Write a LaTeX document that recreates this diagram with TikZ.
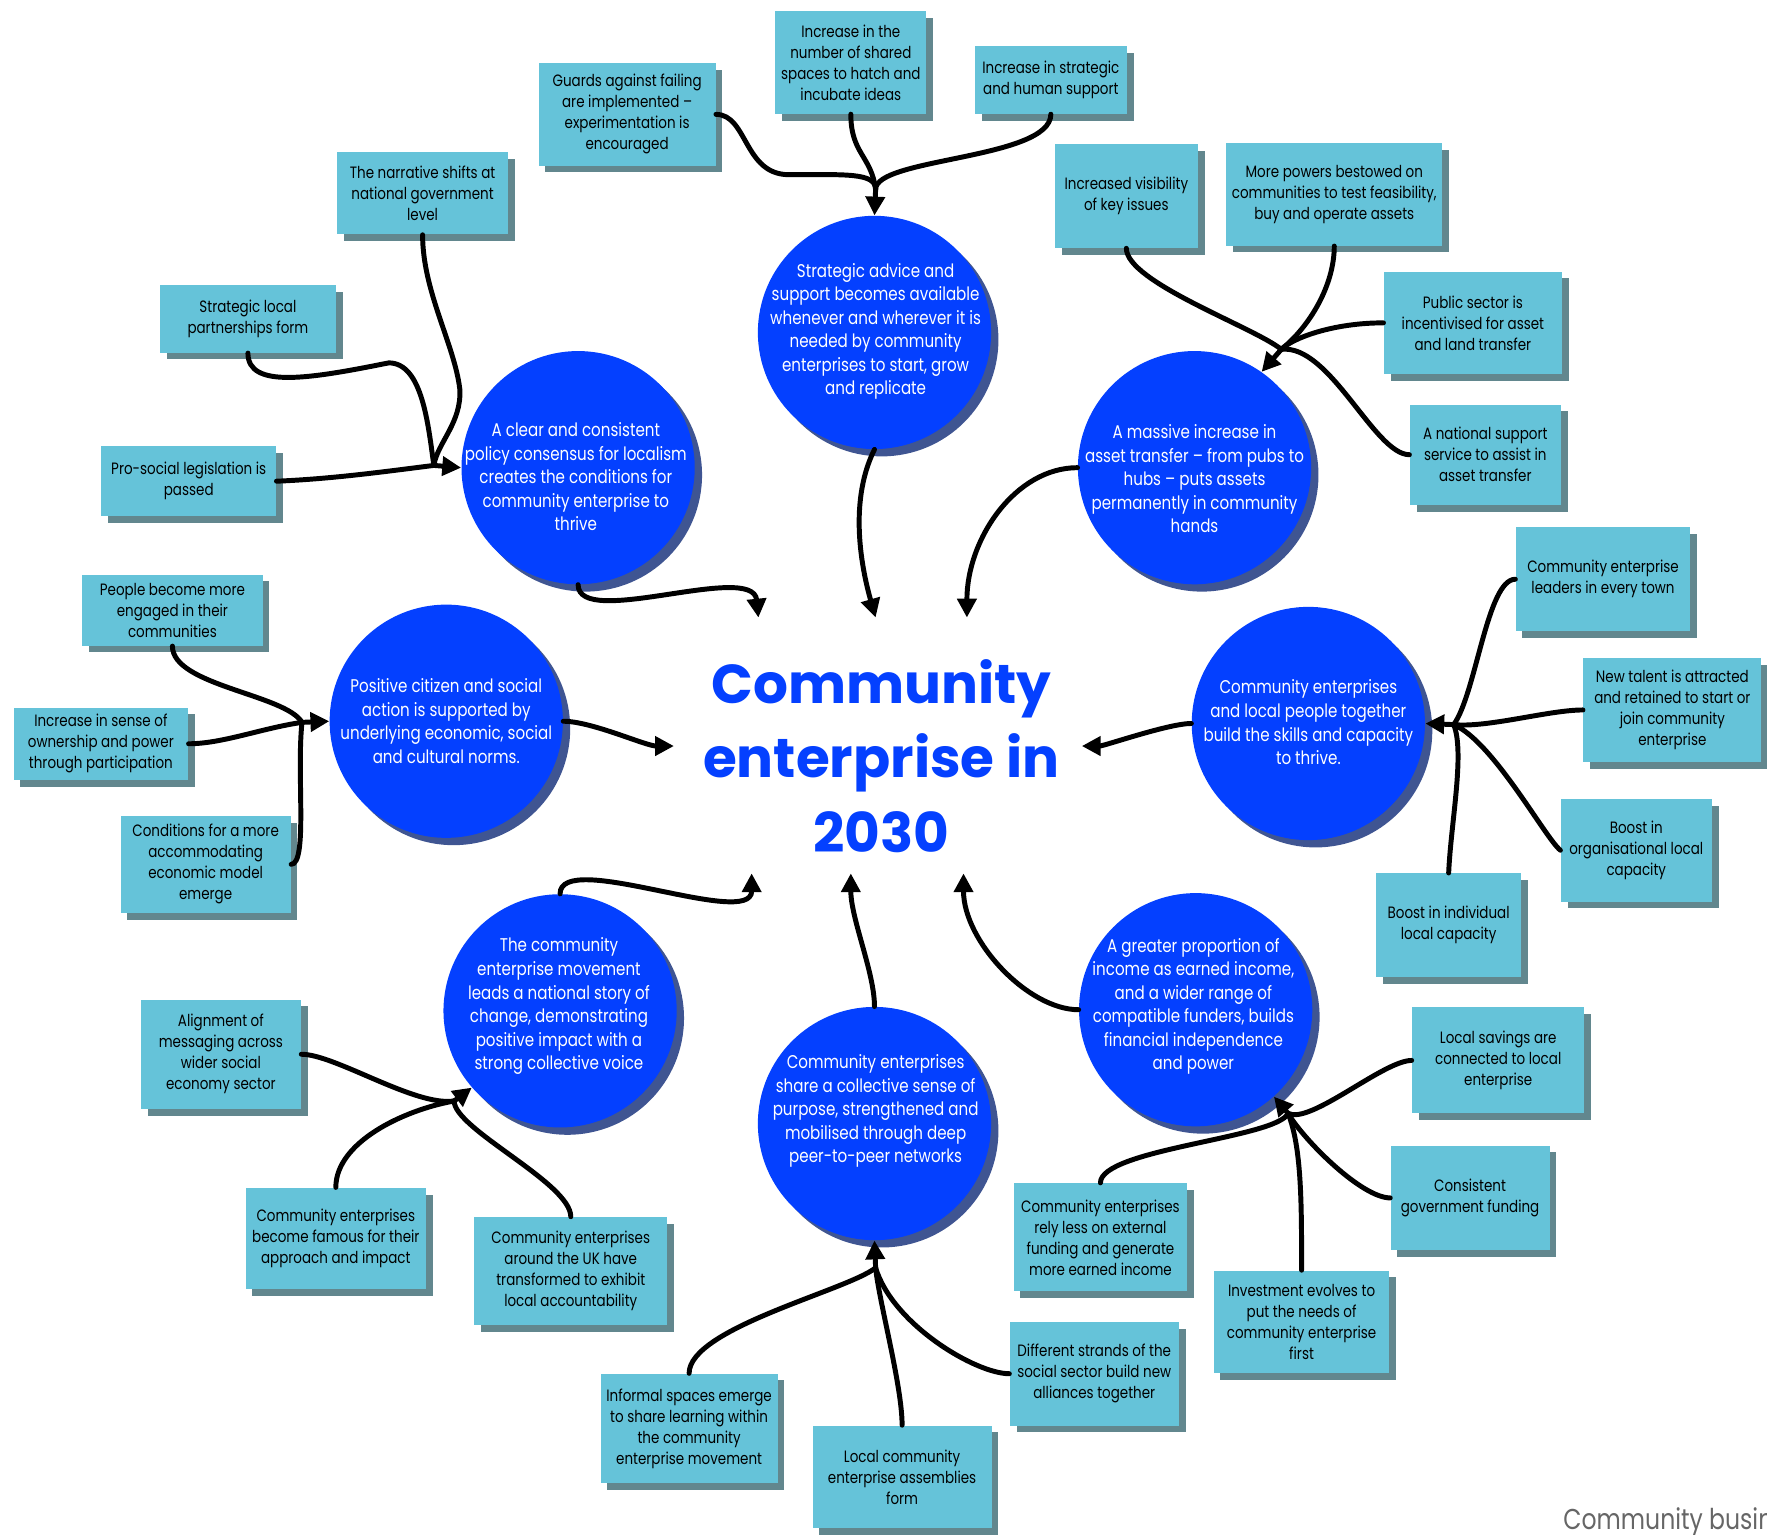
\documentclass[tikz,border=0pt]{standalone}
\usepackage{fontspec}
\setmainfont{Poppins}[FakeStretch=0.82]
\newfontfamily\headfont{Poppins}
\usetikzlibrary{arrows.meta,shadows}

\definecolor{discblue}{HTML}{0440FF}
\definecolor{discshade}{HTML}{3F5592}
\definecolor{cardfill}{HTML}{65C3D9}
\definecolor{cardshade}{HTML}{62878E}

\tikzset{
  card/.style={rectangle, fill=cardfill, inner sep=0pt, align=center, text=black,
    font=\fontsize{8.3}{10.6}\selectfont,
    general shadow={fill=cardshade, shadow xshift=0.12cm, shadow yshift=-0.12cm}},
  disc/.style={circle, fill=discblue, inner sep=0pt, minimum size=4.14cm,
    general shadow={fill=discshade, shadow xshift=0.13cm, shadow yshift=-0.13cm}},
  disctext/.style={text=white, align=center, font=\fontsize{9.3}{11.9}\selectfont},
  feed/.style={line width=2.5pt, line cap=round},
  link/.style={feed, -{Triangle[length=9.5pt,width=9.5pt]}}
}

\begin{document}
\begin{tikzpicture}[x=0.02cm,y=0.02cm]
\useasboundingbox (0,0) rectangle (1568,-1362);

% the outcomes
\node[disc] (advice) at (776,-295) {};
\node[disc] (policy) at (513,-415) {};
\node[disc] (assets) at (1060,-415) {};
\node[disc] (citizen) at (396,-640) {};
\node[disc] (skills) at (1161,-642) {};
\node[disc] (movement) at (497,-897) {};
\node[disc] (collective) at (776,-997) {};
\node[disc] (income) at (1061,-896) {};

\node[disctext] (adviceTxt) at (777,-294) {Strategic advice and\\support becomes available\\whenever and wherever it is\\needed by community\\enterprises to start, grow\\and replicate};
\node[disctext] (policyTxt) at (511,-423) {A clear and consistent\\policy consensus for localism\\creates the conditions for\\community enterprise to\\thrive};
\node[disctext] (assetsTxt) at (1060,-425) {A massive increase in\\asset transfer -- from pubs to\\hubs -- puts assets\\permanently in community\\hands};
\node[disctext] (citizenTxt) at (396,-640) {Positive citizen and social\\action is supported by\\underlying economic, social\\and cultural norms.};
\node[disctext] (skillsTxt) at (1161,-641) {Community enterprises\\and local people together\\build the skills and capacity\\to thrive.};
\node[disctext] (movementTxt) at (496,-893) {The community\\enterprise movement\\leads a national story of\\change, demonstrating\\positive impact with a\\strong collective voice};
\node[disctext] (collectiveTxt) at (777,-986) {Community enterprises\\share a collective sense of\\purpose, strengthened and\\mobilised through deep\\peer-to-peer networks};
\node[disctext] (incomeTxt) at (1059,-893) {A greater proportion of\\income as earned income,\\and a wider range of\\compatible funders, builds\\financial independence\\and power};

% the title
\node[font=\headfont\bfseries\fontsize{27.7}{37.5}\selectfont, text=discblue, align=center] (hub) at (782,-671) {Community\\enterprise in\\2030};

% the conditions
\node[card, minimum width=2.68cm, minimum height=1.82cm] (shared) at (755,-55.5) {Increase in the\\number of shared\\spaces to hatch and\\incubate ideas};
\node[card, minimum width=3.14cm, minimum height=1.82cm] (guards) at (556.5,-101.5) {Guards against failing\\are implemented --\\experimentation is\\encouraged};
\node[card, minimum width=2.70cm, minimum height=1.20cm] (support) at (932.5,-71) {Increase in strategic\\and human support};
\node[card, minimum width=3.04cm, minimum height=1.46cm] (narrative) at (375,-171.5) {The narrative shifts at\\national government\\level};
\node[card, minimum width=3.12cm, minimum height=1.20cm] (partners) at (220,-283) {Strategic local\\partnerships form};
\node[card, minimum width=3.10cm, minimum height=1.24cm] (legislation) at (167.5,-427) {Pro-social legislation is\\passed};
\node[card, minimum width=2.54cm, minimum height=1.84cm] (visibility) at (999.5,-174) {Increased visibility\\of key issues};
\node[card, minimum width=3.84cm, minimum height=1.82cm] (powers) at (1184,-172.5) {More powers bestowed on\\communities to test feasibility,\\buy and operate assets};
\node[card, minimum width=3.16cm, minimum height=1.82cm] (publicsector) at (1307,-286.5) {Public sector is\\incentivised for asset\\and land transfer};
\node[card, minimum width=2.68cm, minimum height=1.78cm] (national) at (1318,-403.5) {A national support\\service to assist in\\asset transfer};
\node[card, minimum width=3.10cm, minimum height=1.84cm] (leaders) at (1422.5,-514) {Community enterprise\\leaders in every town};
\node[card, minimum width=3.16cm, minimum height=1.84cm] (talent) at (1484,-630) {New talent is attracted\\and retained to start or\\join community\\enterprise};
\node[card, minimum width=2.68cm, minimum height=1.82cm] (orgcap) at (1452,-754.5) {Boost in\\organisational local\\capacity};
\node[card, minimum width=2.58cm, minimum height=1.84cm] (indcap) at (1285.5,-821) {Boost in individual\\local capacity};
\node[card, minimum width=3.20cm, minimum height=1.26cm] (engaged) at (153,-541.5) {People become more\\engaged in their\\communities};
\node[card, minimum width=3.10cm, minimum height=1.28cm] (ownership) at (89.5,-660) {Increase in sense of\\ownership and power\\through participation};
\node[card, minimum width=3.02cm, minimum height=1.72cm] (conditions) at (182.5,-767) {Conditions for a more\\accommodating\\economic model\\emerge};
\node[card, minimum width=2.84cm, minimum height=1.94cm] (alignment) at (196,-935.5) {Alignment of\\messaging across\\wider social\\economy sector};
\node[card, minimum width=3.20cm, minimum height=1.80cm] (famous) at (298,-1099) {Community enterprises\\become famous for their\\approach and impact};
\node[card, minimum width=3.42cm, minimum height=1.92cm] (aroundUK) at (506.5,-1128) {Community enterprises\\around the UK have\\transformed to exhibit\\local accountability};
\node[card, minimum width=3.14cm, minimum height=1.94cm] (informal) at (611.5,-1267.5) {Informal spaces emerge\\to share learning within\\the community\\enterprise movement};
\node[card, minimum width=3.18cm, minimum height=1.82cm] (assemblies) at (800.5,-1310.5) {Local community\\enterprise assemblies\\form};
\node[card, minimum width=3.00cm, minimum height=1.84cm] (strands) at (971,-1219) {Different strands of the\\social sector build new\\alliances together};
\node[card, minimum width=3.08cm, minimum height=1.92cm] (relyless) at (976.5,-1098) {Community enterprises\\rely less on external\\funding and generate\\more earned income};
\node[card, minimum width=3.12cm, minimum height=1.82cm] (investment) at (1155,-1173) {Investment evolves to\\put the needs of\\community enterprise\\first};
\node[card, minimum width=3.06cm, minimum height=1.88cm] (savings) at (1329.5,-941) {Local savings are\\connected to local\\enterprise};
\node[card, minimum width=2.82cm, minimum height=1.86cm] (consistent) at (1304.5,-1063) {Consistent\\government funding};

% conditions into outcomes
\coordinate (adviceIn) at (777,-168);
\draw[feed] (shared.south) .. controls +(0,-35) and +(-4,30) .. (adviceIn);
\draw[feed] (guards.east) .. controls +(28,0) and +(-40,0) .. (700,-155) .. controls +(50,0) and +(0,15) .. (adviceIn);
\draw[feed] (support.south) .. controls +(0,-40) and +(0,28) .. (adviceIn);
\draw[link] (adviceIn) -- (advice.north);

\coordinate (policyIn) at (385,-413);
\draw[feed] (narrative.south) .. controls +(0,-50) and +(-5,40) .. (408,-345) .. controls +(2,-30) and +(3,20) .. (policyIn);
\draw[feed] (partners.south) .. controls +(0,-32) and +(-70,-14) .. (345,-322) .. controls +(30,0) and +(-5,35) .. (policyIn);
\draw[feed] (legislation.east) .. controls +(50,2) and +(-40,-5) .. (policyIn);
\draw[link] (policyIn) -- (policy.west);

\coordinate (assetsIn) at (1137,-310);
\draw[feed] (visibility.south) .. controls +(0,-30) and +(-25,20) .. (assetsIn);
\draw[feed] (powers.south) .. controls +(0,-35) and +(25,20) .. (assetsIn);
\draw[feed] (publicsector.west) .. controls +(-45,0) and +(10,10) .. (assetsIn);
\draw[feed] (national.west) .. controls +(-31,0) and +(43,5) .. (assetsIn);
\draw[link] (assetsIn) -- (assets.55);

\coordinate (skillsIn) at (1290,-643);
\draw[feed] (leaders.west) .. controls +(-25,0) and +(20,28) .. (skillsIn);
\draw[feed] (talent.west) .. controls +(-30,0) and +(30,-3) .. (skillsIn);
\draw[feed] (orgcap.west) .. controls +(-13,10) and +(35,-15) .. (skillsIn);
\draw[feed] (indcap.north) .. controls +(2,45) and +(10,-25) .. (skillsIn);
\draw[link] (skillsIn) -- (skills.east);

\coordinate (citizenIn) at (268,-641);
\draw[feed] (engaged.south) .. controls +(0,-35) and +(-15,25) .. (citizenIn);
\draw[feed] (ownership.east) .. controls +(30,0) and +(-35,-5) .. (citizenIn);
\draw[feed] (conditions.east) .. controls +(15,0) and +(-5,-45) .. (citizenIn);
\draw[link] (citizenIn) -- (citizen.west);

\coordinate (movementIn) at (403,-977);
\draw[feed] (alignment.east) .. controls +(30,0) and +(-35,-5) .. (movementIn);
\draw[feed] (famous.north) .. controls +(0,40) and +(-45,-8) .. (movementIn);
\draw[feed] (aroundUK.north) .. controls +(0,30) and +(0,-25) .. (movementIn);
\draw[link] (movementIn) -- (movement.221);

\coordinate (collectiveIn) at (777,-1125);
\draw[feed] (informal.north) .. controls +(0,40) and +(-25,-20) .. (collectiveIn);
\draw[feed] (assemblies.north) .. controls +(0,35) and +(3,-30) .. (collectiveIn);
\draw[feed] (strands.west) .. controls +(-30,0) and +(15,-50) .. (collectiveIn);
\draw[link] (collectiveIn) -- (collective.south);

\coordinate (incomeIn) at (1143,-988);
\draw[feed] (relyless.north) .. controls +(0,30) and +(-10,-22) .. (incomeIn);
\draw[feed] (savings.west) .. controls +(-25,0) and +(20,-10) .. (incomeIn);
\draw[feed] (consistent.west) .. controls +(-25,0) and +(15,-25) .. (incomeIn);
\draw[feed] (investment.north) .. controls +(0,60) and +(12,-30) .. (incomeIn);
\draw[link] (incomeIn) -- (income.-48);

% outcomes into the title
\coordinate (hubNW) at (673,-548);
\coordinate (hubN) at (777,-548);
\coordinate (hubNE) at (858,-548);
\coordinate (hubW) at (598,-662);
\coordinate (hubE) at (960,-662);
\coordinate (hubSW) at (667,-775);
\coordinate (hubS) at (755,-775);
\coordinate (hubSE) at (855,-775);
\draw[link] (advice.south) .. controls +(-25,-50) and +(-10,35) .. (hubN);
\draw[link] (policy.south) .. controls +(0,-40) and +(-5,50) .. (hubNW);
\draw[link] (assets.west) .. controls +(-55,0) and +(0,70) .. (hubNE);
\draw[link] (citizen.east) .. controls +(25,0) and +(-25,0) .. (hubW);
\draw[link] (skills.west) .. controls +(-20,0) and +(20,0) .. (hubE);
\draw[link] (movement.north) .. controls +(0,40) and +(0,-50) .. (hubSW);
\draw[link] (collective.north) .. controls +(0,30) and +(0,-40) .. (hubS);
\draw[link] (income.west) .. controls +(-45,0) and +(0,-60) .. (hubSE);

% footer, cut by the page edge
\begin{scope}
\clip (0,0) rectangle (1568,-1362);
\node[font=\fontsize{14.5}{16}\selectfont, text=black!60, anchor=base west, inner sep=0pt] (credit) at (1387,-1357) {Community business};
\end{scope}
\end{tikzpicture}
\end{document}
